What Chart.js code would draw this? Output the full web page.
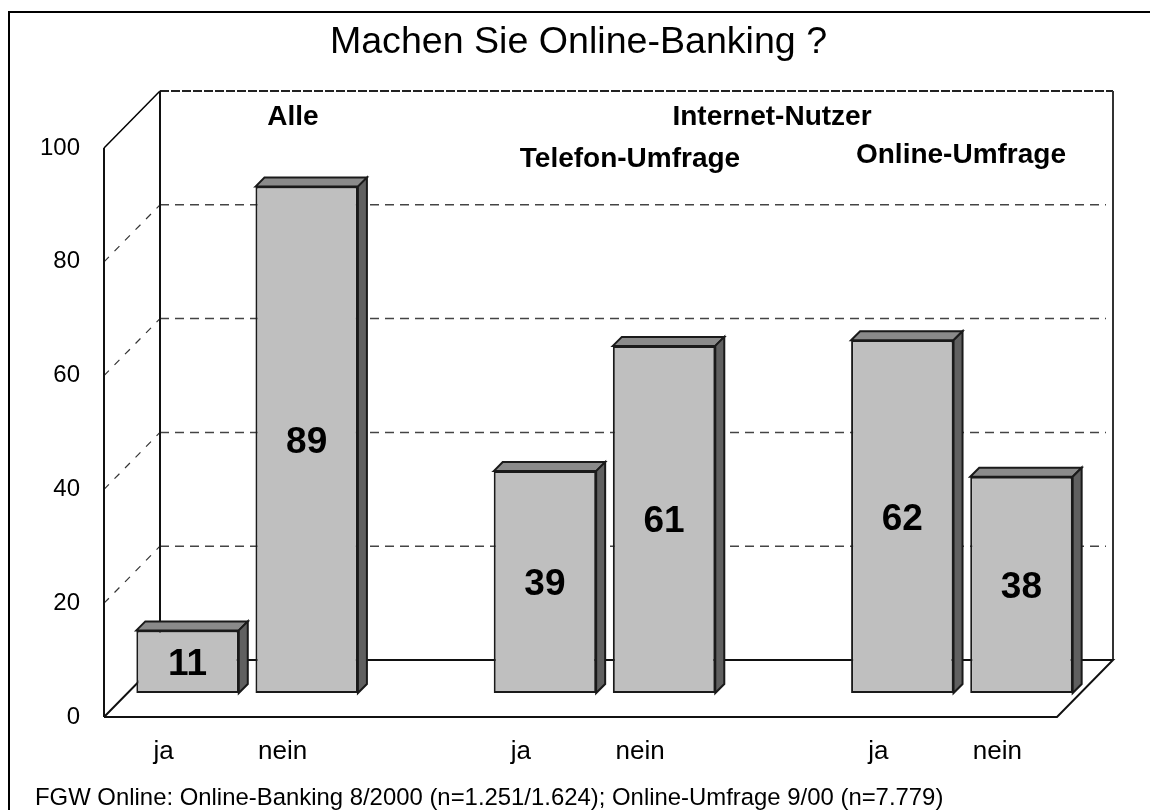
<!DOCTYPE html>
<html>
<head>
<meta charset="utf-8">
<style>body { margin: 0; background: #fff; }</style>
<script src="https://cdn.jsdelivr.net/npm/chart.js@4"></script>
</head>
<body>
<canvas id="chart" width="1150" height="810"></canvas>
<script>
// empty slots keep the three groups apart
const categories = ['ja', 'nein', '', 'ja', 'nein', '', 'ja', 'nein'];
const values = [11, 89, null, 39, 61, null, 62, 38];
const yTicks = [0, 20, 40, 60, 80, 100];
const titleText = 'Machen Sie Online-Banking ?';
const footerText = 'FGW Online: Online-Banking 8/2000 (n=1.251/1.624); Online-Umfrage 9/00 (n=7.779)';

const FONT = '"Liberation Sans", Arial, sans-serif';
const WALL_X = 56, WALL_Y = 57;   // depth of the floor / side wall
const BAR_SHIFT = 24;             // bars stand in the middle of the floor
const BAR_DEPTH = 9;

function line(ctx, pts, color, width, dash) {
    ctx.beginPath();
    ctx.strokeStyle = color;
    ctx.lineWidth = width;
    ctx.setLineDash(dash || []);
    pts.forEach((p, i) => i ? ctx.lineTo(p[0], p[1]) : ctx.moveTo(p[0], p[1]));
    ctx.stroke();
    ctx.setLineDash([]);
}

function face(ctx, pts, fill) {
    ctx.beginPath();
    pts.forEach((p, i) => i ? ctx.lineTo(p[0], p[1]) : ctx.moveTo(p[0], p[1]));
    ctx.closePath();
    ctx.fillStyle = fill;
    ctx.fill();
    ctx.strokeStyle = '#1a1a1a';
    ctx.lineWidth = 2;
    ctx.stroke();
}

function label(ctx, text, x, y, font, align) {
    ctx.font = font;
    ctx.fillStyle = '#000';
    ctx.textAlign = align || 'center';
    ctx.textBaseline = 'alphabetic';
    ctx.fillText(text, x, y);
}

const box3d = {
    id: 'box3d',
    beforeDatasetsDraw(chart) {
        const ctx = chart.ctx, a = chart.chartArea, y = chart.scales.y;
        const bx = a.left + WALL_X, bt = a.top - WALL_Y, bb = a.bottom - WALL_Y, br = a.right + WALL_X;

        // page frame, only top and left in the original
        line(ctx, [[9, 810], [9, 12], [1150, 12]], '#000', 2);

        // grid on back and side wall
        yTicks.slice(1, -1).forEach(v => {
            const py = y.getPixelForValue(v);
            line(ctx, [[a.left, py], [bx, py - WALL_Y]], '#333', 1.2, [7, 8]);
            line(ctx, [[bx, py - WALL_Y], [br - 7, py - WALL_Y]], '#444', 1.5, [9, 6]);
        });
        line(ctx, [[bx, bt], [br, bt]], '#222', 2, [9, 2]);

        // walls and floor
        line(ctx, [[a.left, a.top], [bx, bt]], '#000', 1.5);
        line(ctx, [[a.left, a.top], [a.left, a.bottom]], '#111', 2);
        line(ctx, [[bx, bt], [bx, bb]], '#111', 2);
        line(ctx, [[br, bt], [br, bb]], '#333', 2);
        line(ctx, [[a.left, a.bottom], [bx, bb], [br, bb], [a.right, a.bottom], [a.left, a.bottom]], '#111', 2);

        // everything the library draws next moves onto the middle of the floor
        ctx.save();
        ctx.translate(BAR_SHIFT, -BAR_SHIFT);
        chart.getDatasetMeta(0).data.forEach((bar, i) => {
            if (values[i] === null) return;
            const l = bar.x - bar.width / 2, r = bar.x + bar.width / 2, d = BAR_DEPTH;
            face(ctx, [[l, bar.y], [l + d, bar.y - d], [r + d, bar.y - d], [r, bar.y]], '#8A8A8A');
            face(ctx, [[r, bar.y], [r + d, bar.y - d], [r + d, bar.base - d], [r, bar.base]], '#606060');
        });
    },
    afterDatasetsDraw(chart) {
        const ctx = chart.ctx;
        chart.getDatasetMeta(0).data.forEach((bar, i) => {
            if (values[i] === null) return;
            label(ctx, String(values[i]), bar.x, (bar.y + bar.base) / 2 + 13, 'bold 37px ' + FONT);
        });
        ctx.restore();
    },
    afterDraw(chart) {
        const ctx = chart.ctx;
        label(ctx, titleText, 578.5, 53, '37.6px ' + FONT);
        label(ctx, 'Alle', 293, 125, 'bold 28px ' + FONT);
        label(ctx, 'Internet-Nutzer', 772, 125, 'bold 28px ' + FONT);
        label(ctx, 'Telefon-Umfrage', 630, 167, 'bold 28px ' + FONT);
        label(ctx, 'Online-Umfrage', 961, 163, 'bold 28px ' + FONT);
        label(ctx, footerText, 35, 805, '23.9px ' + FONT, 'left');
    }
};

new Chart(document.getElementById('chart'), {
    type: 'bar',
    data: {
        labels: categories,
        datasets: [{
            data: values,
            backgroundColor: '#BFBFBF',
            borderColor: '#1a1a1a',
            borderWidth: 2,
            borderSkipped: false,
            barPercentage: 0.86,
            categoryPercentage: 1,
            clip: false
        }]
    },
    options: {
        responsive: false,
        animation: false,
        layout: { padding: { top: 148, right: 93 } },
        plugins: { legend: { display: false }, tooltip: { enabled: false } },
        scales: {
            x: {
                afterFit: s => { s.height = 93; },
                grid: { display: false },
                border: { display: false },
                ticks: { color: '#000', padding: 11, maxRotation: 0, autoSkip: false, font: { family: FONT, size: 26 } }
            },
            y: {
                min: 0,
                max: 100,
                afterFit: s => { s.width = 104; },
                grid: { display: false, drawTicks: false },
                border: { display: false },
                ticks: { color: '#000', stepSize: 20, padding: 24, font: { family: FONT, size: 24 } }
            }
        }
    },
    plugins: [box3d]
});
</script>
</body>
</html>
